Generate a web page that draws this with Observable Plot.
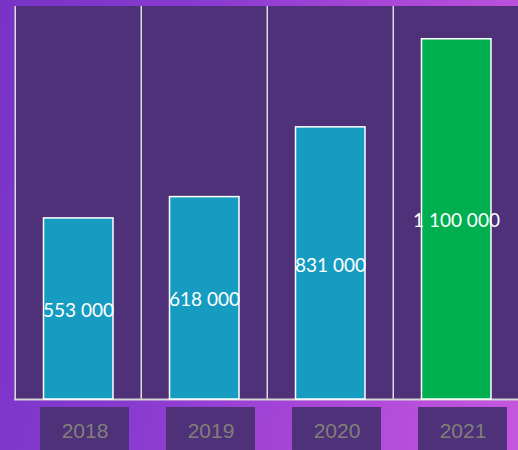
<!DOCTYPE html>
<html>
<head>
<meta charset="utf-8">
<script src="https://cdn.jsdelivr.net/npm/d3@7"></script>
<script src="https://cdn.jsdelivr.net/npm/@observablehq/plot@0.6"></script>
<style>
  html, body { margin: 0; padding: 0; }
  body {
    width: 518px; height: 450px; overflow: hidden;
    background: linear-gradient(100deg, #7833c6 0%, #8a3bd0 35%, #a947d8 65%, #c557dd 100%);
  }
  #chart svg { display: block; }
</style>
</head>
<body>
<div id="chart"></div>
<script>
const years = ["2018", "2019", "2020", "2021"];
const values = [553000, 618000, 831000, 1100000];
const barColors = ["#169cc0", "#169cc0", "#169cc0", "#00b050"];

const data = years.map((year, i) => ({year, value: values[i], color: barColors[i]}));
const fmt = v => d3.format(",")(v).replace(/,/g, " ");

const W = 518, H = 450, mL = 14, mR = -2;
const bw = (W - mL - mR) / years.length;

const chart = Plot.plot({
  width: W,
  height: H,
  marginTop: 6,
  marginBottom: 51,
  marginLeft: mL,
  marginRight: mR,
  style: {background: "transparent", overflow: "visible"},
  x: {domain: years, padding: 0, axis: null},
  y: {domain: [0, 1200000], axis: null},
  marks: [
    Plot.cell(years, {x: d => d, fill: "#4e3179"}),
    Plot.ruleX(years, {x: d => d, dx: -bw / 2, stroke: "#dcdcdc", strokeWidth: 1.5}),
    Plot.ruleY([0], {stroke: "#d4d4d4", strokeWidth: 2}),
    Plot.barY(data, {x: "year", y: "value", fill: "color", stroke: "white", strokeWidth: 1.5, insetLeft: 28.5, insetRight: 28}),
    Plot.text(data, {x: "year", y: d => d.value / 2, text: d => fmt(d.value), dy: 2, fill: "white", fontSize: 19, fontFamily: "Lato, sans-serif"}),
    Plot.barY(years, {x: d => d, y1: 0, y2: 0, fill: "#4e3179", insetTop: 8, insetBottom: -51, insetLeft: 25, insetRight: 12}),
    Plot.text(years, {x: d => d, text: d => d, frameAnchor: "bottom", lineAnchor: "middle", dy: 32, dx: 6.5, fill: "#808078", fontSize: 21, fontFamily: "Liberation Sans, Arial, sans-serif"})
  ]
});
document.getElementById("chart").append(chart);
</script>
</body>
</html>
